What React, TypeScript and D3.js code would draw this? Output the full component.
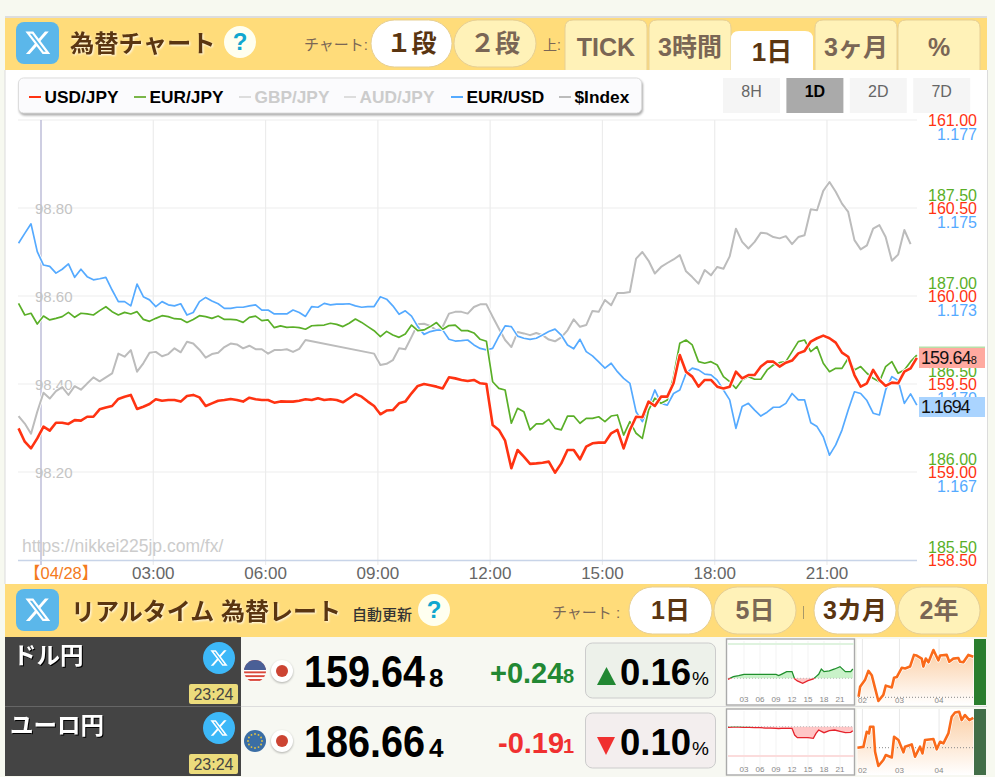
import React from "react";
import * as d3 from "d3";

// minutes from 00:00 on 04/28, one reading every 10 minutes from the previous evening
const minutes = d3.range(-36, 1405, 10);

const usdJpy = [
  159.248, 159.172, 159.134, 159.191, 159.258, 159.235, 159.28, 159.28, 159.273, 159.295,
  159.292, 159.314, 159.314, 159.356, 159.367, 159.375, 159.415, 159.428, 159.438, 159.358,
  159.371, 159.386, 159.413, 159.405, 159.409, 159.409, 159.4, 159.432, 159.438, 159.424,
  159.375, 159.39, 159.405, 159.409, 159.415, 159.409, 159.4, 159.422, 159.413, 159.409,
  159.409, 159.394, 159.401, 159.4, 159.4, 159.405, 159.413, 159.409, 159.419, 159.409,
  159.413, 159.409, 159.396, 159.419, 159.443, 159.428, 159.4, 159.375, 159.328, 159.349,
  159.352, 159.39, 159.4, 159.447, 159.489, 159.5, 159.493, 159.485, 159.475, 159.538,
  159.532, 159.523, 159.517, 159.523, 159.504, 159.5, 159.267, 159.239, 159.178, 159.021,
  159.125, 159.087, 159.046, 159.049, 159.053, 159.059, 158.996, 159.049, 159.125, 159.125,
  159.072, 159.144, 159.163, 159.167, 159.167, 159.22, 159.239, 159.134, 159.239, 159.314,
  159.311, 159.4, 159.375, 159.428, 159.428, 159.504, 159.665, 159.57, 159.542, 159.485,
  159.523, 159.523, 159.485, 159.475, 159.485, 159.57, 159.532, 159.551, 159.551, 159.599,
  159.627, 159.627, 159.599, 159.621, 159.633, 159.674, 159.687, 159.741, 159.76, 159.775,
  159.76, 159.735, 159.678, 159.655, 159.551, 159.485, 159.504, 159.58, 159.523, 159.489,
  159.508, 159.504, 159.57, 159.589, 159.648,
];

const eurJpy = [
  186.958, 186.892, 186.902, 186.841, 186.886, 186.864, 186.873, 186.883, 186.907, 186.879,
  186.902, 186.898, 186.892, 186.917, 186.939, 186.911, 186.892, 186.907, 186.898, 186.911,
  186.867, 186.856, 186.873, 186.888, 186.883, 186.871, 186.869, 186.85, 186.867, 186.888,
  186.883, 186.873, 186.886, 186.867, 186.867, 186.864, 186.85, 186.879, 186.886, 186.86,
  186.864, 186.82, 186.83, 186.822, 186.824, 186.82, 186.811, 186.831, 186.833, 186.835,
  186.845, 186.839, 186.826, 186.845, 186.869, 186.85, 186.826, 186.803, 186.769, 186.799,
  186.778, 186.765, 186.784, 186.835, 186.803, 186.807, 186.826, 186.849, 186.811, 186.832,
  186.835, 186.803, 186.803, 186.79, 186.754, 186.743, 186.513, 186.475, 186.466, 186.277,
  186.362, 186.343, 186.239, 186.273, 186.273, 186.299, 186.248, 186.239, 186.318, 186.318,
  186.277, 186.305, 186.305, 186.314, 186.286, 186.318, 186.324, 186.21, 186.286, 186.22,
  186.191, 186.352, 186.419, 186.39, 186.409, 186.542, 186.731, 186.75, 186.722, 186.627,
  186.618, 186.627, 186.608, 186.542, 186.513, 186.475, 186.523, 186.542, 186.527, 186.527,
  186.58, 186.608, 186.621, 186.627, 186.684, 186.741, 186.75, 186.684, 186.712, 186.618,
  186.57, 186.589, 186.589, 186.646, 186.58, 186.599, 186.561, 186.532, 186.513, 186.599,
  186.627, 186.561, 186.58, 186.627, 186.664,
];

const eurUsd = [
  1.174, 1.17428, 1.17455, 1.17376, 1.17338, 1.17334, 1.17315, 1.17326, 1.17341, 1.17303,
  1.17326, 1.17305, 1.17296, 1.17299, 1.17303, 1.17267, 1.17234, 1.17234, 1.17222, 1.17284,
  1.17248, 1.17239, 1.1722, 1.17234, 1.17225, 1.17222, 1.17228, 1.17196, 1.17203, 1.17234,
  1.17246, 1.17236, 1.17228, 1.17215, 1.17215, 1.17218, 1.17218, 1.17222, 1.17225, 1.1721,
  1.1721, 1.17199, 1.17199, 1.17199, 1.1721, 1.17203, 1.17192, 1.1722, 1.17218, 1.17229,
  1.17225, 1.17227, 1.17227, 1.17228, 1.17222, 1.17218, 1.1722, 1.1722, 1.17248, 1.17241,
  1.17222, 1.17198, 1.17208, 1.17193, 1.17163, 1.17141, 1.17149, 1.17153, 1.17153, 1.17127,
  1.17122, 1.17123, 1.17125, 1.17111, 1.17101, 1.17097, 1.17101, 1.17135, 1.17165, 1.17163,
  1.17136, 1.1713, 1.17127, 1.1713, 1.17139, 1.17149, 1.17156, 1.17139, 1.17111, 1.171,
  1.17127, 1.17092, 1.1708, 1.17063, 1.17045, 1.17059, 1.17035, 1.17016, 1.17002, 1.16921,
  1.16893, 1.16936, 1.16983, 1.16945, 1.1694, 1.16973, 1.16983, 1.1703, 1.17045, 1.1704,
  1.17028, 1.17026, 1.17011, 1.16983, 1.16955, 1.16874, 1.16936, 1.16945, 1.16926, 1.16909,
  1.1692, 1.16934, 1.16934, 1.16945, 1.16973, 1.16955, 1.16955, 1.1689, 1.16879, 1.1685,
  1.16798, 1.16827, 1.16869, 1.16926, 1.16978, 1.16973, 1.16953, 1.16917, 1.16912, 1.16983,
  1.17021, 1.1701, 1.16945, 1.16972, 1.1694,
];

// the index has no quotes for about an hour and a half before 09:00
const dollarIndex: (number | null)[] = [
  98.327, 98.31, 98.287, 98.337, 98.38, 98.367, 98.384, 98.393, 98.375, 98.395,
  98.387, 98.401, 98.415, 98.406, 98.415, 98.424, 98.469, 98.462, 98.477, 98.428,
  98.447, 98.471, 98.473, 98.463, 98.468, 98.481, 98.472, 98.496, 98.492, 98.478,
  98.46, 98.468, 98.471, 98.484, 98.492, 98.49, 98.481, 98.487, 98.479, 98.479,
  98.469, 98.477, 98.477, 98.479, 98.473, 98.48, 98.5, null, null, null,
  null, null, null, null, null, null, null, 98.469, 98.443, 98.446,
  98.454, 98.481, 98.479, 98.507, 98.536, 98.537, 98.532, 98.522, 98.53, 98.56,
  98.564, 98.564, 98.56, 98.575, 98.581, 98.581, 98.553, 98.526, 98.5, 98.484,
  98.518, 98.515, 98.511, 98.516, 98.511, 98.501, 98.497, 98.506, 98.522, 98.547,
  98.53, 98.534, 98.566, 98.564, 98.591, 98.579, 98.607, 98.607, 98.609, 98.685,
  98.7, 98.68, 98.651, 98.666, 98.675, 98.683, 98.693, 98.656, 98.643, 98.628,
  98.659, 98.647, 98.666, 98.662, 98.69, 98.753, 98.723, 98.708, 98.723, 98.744,
  98.742, 98.734, 98.731, 98.736, 98.718, 98.734, 98.738, 98.797, 98.795, 98.839,
  98.859, 98.837, 98.81, 98.791, 98.727, 98.706, 98.715, 98.753, 98.761, 98.734,
  98.68, 98.694, 98.75, 98.718, null,
];

const timeTicks = [180, 360, 540, 720, 900, 1080, 1260];
const timeLabels = ["03:00", "06:00", "09:00", "12:00", "15:00", "18:00", "21:00"];
const usdTicks = [161, 160.5, 160, 159.5, 159, 158.5];
const eurTicks = [187.5, 187, 186.5, 186, 185.5];
const eurUsdTicks = [1.1775, 1.175, 1.1725, 1.17, 1.1675];
const indexTicks = [98.8, 98.6, 98.4, 98.2];

const legendNames = ["USD/JPY", "EUR/JPY", "GBP/JPY", "AUD/JPY", "EUR/USD", "$Index"];

// day session change in yen, row 1 and row 2 mini charts
const miniHours = [0, 1, 2, 3, 4, 5, 6, 7, 8, 9, 9.5, 10, 11, 12, 12.5, 13, 14, 15, 16, 16.5, 17, 17.5, 18, 19, 20, 21, 22, 23, 23.4];
const miniUsd = [-0.03, 0.05, 0.08, 0.12, 0.12, 0.12, 0.12, 0.12, 0.12, 0.12, 0.08, 0.12, 0.2, 0.2, -0.02, -0.08, -0.15, -0.07, -0.02, 0.05, 0.12, 0.28, 0.2, 0.22, 0.28, 0.35, 0.2, 0.2, 0.28];
const miniEur = [-0.02, -0.01, -0.01, -0.02, -0.02, -0.03, -0.03, -0.04, -0.04, -0.05, -0.06, -0.05, -0.05, -0.05, -0.25, -0.33, -0.33, -0.33, -0.35, -0.2, -0.1, -0.14, -0.18, -0.12, -0.1, -0.14, -0.18, -0.17, -0.12];
const miniTickHours = [3, 6, 9, 12, 15, 18, 21];
const miniTickLabels = ["03", "06", "09", "12", "15", "18", "21"];

// three month closes, days counted from 02/01
const longUsdDays = [-3, -1.8, 2, 4.7, 7.3, 9.9, 12.5, 16.4, 18.3, 23, 24.8, 26.9, 30.8, 33.4, 37.3, 40.4, 42.5, 46.4, 47.7, 49.6, 51.7, 55.6, 59.5, 60.8, 66, 68, 71.2, 75.1, 76.4, 79, 82.9, 86.8];
const longUsd = [153.1, 154.7, 155.8, 157.3, 156.6, 154.5, 152.4, 153.4, 154.9, 154.6, 156.2, 156.3, 157.8, 157.7, 158, 159.9, 159.8, 159.3, 158, 159.3, 158.7, 160.7, 159, 159.8, 159.9, 158.8, 159.3, 159.4, 158.8, 158.7, 159.9, 159.6];
const longEurDays = [-3.9, 0.8, 3.4, 5.2, 6, 8.6, 9.9, 12.5, 16.4, 18.3, 23, 24.8, 28.2, 32.1, 33.4, 38.6, 41.2, 45.1, 47, 49, 55.6, 58.2, 60.8, 63.4, 67.3, 69.9, 72.5, 75.7, 77.7, 80.3, 83.7, 86.8];
const longEur = [183, 183.1, 184.95, 184.75, 185.56, 185.56, 182.5, 180.76, 181.5, 182.1, 181.8, 184.34, 183.94, 182.43, 183.12, 183.4, 181.9, 183.12, 182.3, 183.94, 184.06, 182.8, 183.73, 183.53, 184.75, 186.79, 187.3, 187.4, 186.38, 186.99, 186.38, 186.66];
const longTickDays = [0, 29, 60];
const longTickLabels = ["02", "03", "04"];

const SANS = "'Liberation Sans', Arial, sans-serif";
const JP = "'Liberation Sans', 'Noto Sans CJK JP', sans-serif";
const BROWN = "#5a3511";
const DIM = "#7a6655";
const YELLOW = "#ffdc7a";
const CREAM = "#fff2b8";
const RED = "#ff3312";
const GREEN = "#5aaf28";
const BLUE = "#55aaff";
const GREY = "#bcbcbc";
const glow = { filter: "drop-shadow(1px 1px 1px rgba(255,255,255,0.9))" };

const xTime = d3.scaleLinear().domain([0, 1260]).range([41, 827]);
const yUsd = d3.scaleLinear().domain([158.5, 161]).range([560, 120]);
const yEur = d3.scaleLinear().domain([185.5, 187.5]).range([560, 208]);
const yEurUsd = d3.scaleLinear().domain([1.165, 1.175]).range([560, 208]);
const yIndex = d3.scaleLinear().domain([98.2, 98.8]).range([472, 208]);

const seriesPath = (values: (number | null)[], y: d3.ScaleLinear<number, number>) => {
  const pts = values
    .map((v, i) => [minutes[i], v] as [number, number | null])
    .filter((d) => d[1] !== null) as [number, number][];
  return d3
    .line<[number, number]>()
    .x((d) => xTime(d[0]))
    .y((d) => y(d[1]))(pts) as string;
};

const X_PATH =
  "M18.244 2.25h3.308l-7.227 8.26 8.502 11.24H16.17l-5.214-6.817L4.99 21.75H1.68l7.73-8.835L1.254 2.25H8.08l4.713 6.231zm-1.161 17.52h1.833L7.084 4.126H5.117z";

const XSquare = ({ y }: { y: number }) => (
  <g>
    <rect x={16} y={y} width={43} height={42} rx={8} fill="#5bb7ea" />
    <path d={X_PATH} fill="#fff" transform={`translate(24 ${y + 7}) scale(1.15)`} />
  </g>
);

const XRound = ({ cy }: { cy: number }) => (
  <g>
    <circle cx={219} cy={cy} r={16} fill="#3db8f8" />
    <path d={X_PATH} fill="#fff" transform={`translate(209.4 ${cy - 9.6}) scale(0.8)`} />
  </g>
);

const Help = ({ cx, cy }: { cx: number; cy: number }) => (
  <g>
    <circle cx={cx} cy={cy} r={16} fill="#fffff0" />
    <text x={cx} y={cy + 8} textAnchor="middle" fontFamily={SANS} fontWeight="bold" fontSize={24} fill="#11a7cf">?</text>
  </g>
);

const Pill = ({ x, y, w, label, on }: { x: number; y: number; w: number; label: string; on: boolean }) => (
  <g>
    <rect x={x} y={y} width={w} height={47} rx={23.5} fill={on ? "#fff" : CREAM} stroke="#e6cf95" />
    <text x={x + w / 2} y={y + 32} textAnchor="middle" fontFamily={JP} fontWeight="bold" fontSize={25} fill={on ? BROWN : DIM}>
      {label}
    </text>
  </g>
);

const Tab = ({ x, label, on }: { x: number; label: string; on: boolean }) => {
  const top = on ? 31 : 20;
  const w = 82;
  const bottom = 70;
  return (
    <g>
      <path
        d={`M${x} ${bottom}V${top + 8}Q${x} ${top} ${x + 8} ${top}H${x + w - 8}Q${x + w} ${top} ${x + w} ${top + 8}V${bottom}`}
        fill={on ? "#fff" : CREAM}
        stroke={on ? "none" : "#e6cf95"}
      />
      <text x={x + w / 2} y={on ? 61 : 56} textAnchor="middle" fontFamily={JP} fontWeight="bold" fontSize={on ? 26 : 25} fill={on ? BROWN : DIM}>
        {label}
      </text>
    </g>
  );
};

// day chart in the quote rows, green above the previous close and red under it
const MiniDay = ({ id, top, values, base, pxPerYen }: { id: string; top: number; values: number[]; base: number; pxPerYen: number }) => {
  const x = d3.scaleLinear().domain([0, 21]).range([728, 840]);
  const y = d3.scaleLinear().domain([0, 1]).range([base, base - pxPerYen]);
  const pts = miniHours.map((h, i) => [h, values[i]] as [number, number]);
  const area = (f: (v: number) => number) =>
    d3
      .area<[number, number]>()
      .x((d) => x(d[0]))
      .y0(base)
      .y1((d) => y(f(d[1])))(pts) as string;
  const up = d3.line<[number, number]>().x((d) => x(d[0])).y((d) => y(d[1]))(pts) as string;
  return (
    <g>
      <clipPath id={`${id}-up`}><rect x={726} y={top} width={129} height={base - top} /></clipPath>
      <clipPath id={`${id}-dn`}><rect x={726} y={base} width={129} height={top + 66 - base} /></clipPath>
      <rect x={726.5} y={top} width={128} height={66} fill="#fff" stroke="#aaa" strokeWidth={1.4} />
      {miniTickHours.map((h) => (
        <line key={h} x1={x(h)} x2={x(h)} y1={top + 2} y2={top + 64} stroke="#f3f3f3" />
      ))}
      <rect x={728} y={id === "m1" ? top + 4 : top + 46} width={126} height={2} fill={id === "m1" ? "#dff3df" : "#fbdcdc"} />
      <path d={area((v) => Math.max(v, 0))} fill="#c9f2c9" />
      <path d={area((v) => Math.min(v, 0))} fill="#ffc6c6" />
      <line x1={728} x2={854} y1={base} y2={base} stroke="#bbb" strokeDasharray="1 2" />
      <path d={up} fill="none" stroke="#1f8f2c" strokeWidth={1.3} clipPath={`url(#${id}-up)`} />
      <path d={up} fill="none" stroke="#e5232c" strokeWidth={1.3} clipPath={`url(#${id}-dn)`} />
      {miniTickHours.map((h, i) => (
        <text key={h} x={x(h)} y={top + 63} textAnchor="middle" fontFamily={SANS} fontSize={8} fill="#888">
          {miniTickLabels[i]}
        </text>
      ))}
    </g>
  );
};

const MiniLong = ({ id, top, days, values, base, domain, range, strip }: {
  id: string; top: number; days: number[]; values: number[]; base: number;
  domain: [number, number]; range: [number, number]; strip: string;
}) => {
  const x = d3.scaleLinear().domain([0, 86.8]).range([862.4, 973.3]);
  const y = d3.scaleLinear().domain(domain).range(range);
  const pts = days.map((d, i) => [d, values[i]] as [number, number]);
  const bottom = top + 66;
  const line = d3.line<[number, number]>().x((d) => x(d[0])).y((d) => y(d[1]))(pts) as string;
  const area = d3.area<[number, number]>().x((d) => x(d[0])).y0(bottom).y1((d) => y(d[1]))(pts) as string;
  return (
    <g>
      <defs>
        <linearGradient id={id} x1="0" x2="0" y1="0" y2="1">
          <stop offset="0" stopColor="#fbcfa6" />
          <stop offset="1" stopColor="#ffffff" />
        </linearGradient>
      </defs>
      <rect x={857} y={top} width={117} height={66} fill="#fff" />
      {longTickDays.map((d) => (
        <line key={d} x1={x(d)} x2={x(d)} y1={top} y2={bottom} stroke="#e8e8e8" />
      ))}
      <path d={area} fill={`url(#${id})`} />
      <line x1={858} x2={973} y1={base} y2={base} stroke="#888" strokeDasharray="1 2" />
      <path d={line} fill="none" stroke="#fff" strokeWidth={4} strokeLinejoin="round" />
      <path d={line} fill="none" stroke="#fa6a1a" strokeWidth={2.6} strokeLinejoin="round" />
      {longTickDays.map((d, i) => (
        <text key={d} x={x(d)} y={top + 64} textAnchor="middle" fontFamily={SANS} fontSize={8} fill="#888">
          {longTickLabels[i]}
        </text>
      ))}
      <rect x={974} y={top} width={12} height={66} fill={strip} />
    </g>
  );
};

const UsFlag = ({ cy }: { cy: number }) => (
  <g>
    <clipPath id="us-clip"><circle cx={255} cy={cy} r={11} /></clipPath>
    <g clipPath="url(#us-clip)">
      <rect x={244} y={cy - 11} width={22} height={22} fill="#fff" />
      {d3.range(6).map((i) => (
        <rect key={i} x={244} y={cy - 11 + i * 3.8} width={22} height={1.9} fill="#d9483b" />
      ))}
      <rect x={244} y={cy - 11} width={22} height={10} fill="#4a5f96" />
    </g>
  </g>
);

const EuFlag = ({ cy }: { cy: number }) => (
  <g>
    <circle cx={255} cy={cy} r={11} fill="#3a6ea5" />
    {d3.range(12).map((i) => (
      <circle key={i} cx={255 + 7 * Math.cos((i * Math.PI) / 6)} cy={cy + 7 * Math.sin((i * Math.PI) / 6)} r={0.9} fill="#e6c542" />
    ))}
  </g>
);

const JpFlag = ({ cy }: { cy: number }) => (
  <g style={{ filter: "drop-shadow(0px 1px 1px rgba(0,0,0,0.3))" }}>
    <circle cx={282} cy={cy} r={11} fill="#fff" />
    <circle cx={282} cy={cy} r={6} fill="#cc4433" />
  </g>
);

const Row = ({ top, name, nameX, price, last, change, changeLast, changeX, up, pct }: {
  top: number; name: string; nameX: number; price: string; last: string;
  change: string; changeLast: string; changeX: number; up: boolean; pct: string;
}) => {
  const colour = up ? "#228833" : "#f03030";
  const boxTop = top + 6;
  return (
    <g>
      <rect x={5} y={top} width={236} height={69} fill="#444" />
      <text x={nameX} y={top + 27} fontFamily={JP} fontWeight="bold" fontSize={23.5} fill="#fff" style={{ filter: "drop-shadow(1px 1px 0 #000)" }}>
        {name}
      </text>
      <XRound cy={top + 21} />
      <rect x={189} y={top + 47} width={49} height={20} rx={2} fill="#ecdc7c" />
      <text x={213.5} y={top + 63} textAnchor="middle" fontFamily={SANS} fontSize={16} fill="#444">23:24</text>
      <JpFlag cy={top + 34} />
      <text transform={`translate(304 ${top + 50}) scale(0.9 1)`} fontFamily={SANS} fontWeight="bold" fontSize={44} fill="#000">{price}</text>
      <text x={429} y={top + 50} fontFamily={SANS} fontWeight="bold" fontSize={26} fill="#000">{last}</text>
      <text x={changeX} y={top + 46} fontFamily={SANS} fontWeight="bold" fontSize={29} fill={colour}>{change}</text>
      <text x={563} y={top + 46} fontFamily={SANS} fontWeight="bold" fontSize={20} fill={colour}>{changeLast}</text>
      <rect x={585.5} y={boxTop} width={130} height={55} rx={7} fill={up ? "#edf1ea" : "#f3eeee"} stroke="#ccc" />
      {up ? (
        <path d={`M597 ${top + 48}L606.5 ${top + 30}L616 ${top + 48}Z`} fill="#228833" />
      ) : (
        <path d={`M597 ${top + 30}L615 ${top + 30}L606 ${top + 48}Z`} fill="#f03030" />
      )}
      <text x={620} y={top + 48} fontFamily={SANS} fontWeight="bold" fontSize={36.5} fill="#000">{pct}</text>
      <text x={692} y={top + 48} fontFamily={SANS} fontSize={19} fill="#000">%</text>
    </g>
  );
};

export default function App() {
  const legendX = [29, 134, 239, 344, 451, 559];
  const legendColour = [RED, "#7ab648", "#ddd", "#ddd", BLUE, GREY];
  const buttons = ["8H", "1D", "2D", "7D"];
  return (
    <svg width={995} height={777} style={{ position: "absolute", left: 0, top: 0, display: "block" }}>
      <rect width={995} height={777} fill="#f7f9f0" />

      {/* top bar */}
      <rect x={5} y={16} width={982} height={2} fill="#dddddd" />
      <rect x={5} y={18} width={982} height={52} fill={YELLOW} />
      <rect x={5} y={70} width={982} height={514} fill="#fff" />
      <rect x={4.5} y={70} width={1} height={514} fill="#dcdcdc" />
      <rect x={987} y={70} width={1} height={514} fill="#dcdcdc" />
      <XSquare y={22} />
      <text x={70} y={52} fontFamily={JP} fontWeight="bold" fontSize={24.3} fill={BROWN} style={glow}>為替チャート</text>
      <Help cx={240} cy={42} />
      <text x={304} y={50} fontFamily={JP} fontSize={15} fill={DIM}>チャート:</text>
      <Pill x={371} y={20} w={81} label="１段" on />
      <Pill x={454} y={20} w={82} label="２段" on={false} />
      <text x={543} y={50} fontFamily={JP} fontSize={14} fill={DIM}>上:</text>
      <Tab x={565} label="TICK" on={false} />
      <Tab x={649} label="3時間" on={false} />
      <Tab x={731} label="1日" on />
      <Tab x={815} label="3ヶ月" on={false} />
      <Tab x={898} label="%" on={false} />

      {/* legend and range buttons */}
      <rect x={18.5} y={78} width={623} height={35} rx={5} fill="#fbfbfd" stroke="#ddd" style={{ filter: "drop-shadow(1px 2px 1px #aaa)" }} />
      {legendNames.map((name, i) => (
        <g key={name}>
          <line x1={legendX[i]} x2={legendX[i] + 12} y1={97} y2={97} stroke={legendColour[i]} strokeWidth={2} />
          <text x={legendX[i] + 15.5} y={102.5} fontFamily={SANS} fontWeight="bold" fontSize={17.3} fill={i === 2 || i === 3 ? "#cccccc" : "#000"}>
            {name}
          </text>
        </g>
      ))}
      {buttons.map((b, i) => (
        <g key={b}>
          <rect x={723 + i * 63.4} y={78} width={57} height={35} fill={i === 1 ? "#aaaaaa" : "#f5f5f5"} />
          <text x={751.5 + i * 63.4} y={97} textAnchor="middle" fontFamily={SANS} fontWeight={i === 1 ? "bold" : "normal"} fontSize={16} fill={i === 1 ? "#000" : "#666"}>
            {b}
          </text>
        </g>
      ))}

      {/* grid */}
      {usdTicks.slice(0, 5).map((t) => (
        <line key={t} x1={18} x2={917} y1={yUsd(t)} y2={yUsd(t)} stroke="#f3f3f3" strokeWidth={1.6} />
      ))}
      {timeTicks.map((t) => (
        <line key={t} x1={xTime(t)} x2={xTime(t)} y1={120} y2={565} stroke="#ececec" strokeWidth={1.2} />
      ))}
      <line x1={xTime(0)} x2={xTime(0)} y1={120} y2={565} stroke="#b9b9d6" strokeWidth={1.4} />
      <line x1={18} x2={917} y1={560.5} y2={560.5} stroke="#c8d4e8" strokeWidth={1.4} />

      <text x={22} y={552} fontFamily={SANS} fontSize={17.5} fill="#cccccc">https://nikkei225jp.com/fx/</text>
      <text x={24} y={579} fontFamily={JP} fontSize={16.5} fill="#f47a20">【04/28】</text>
      {timeTicks.map((t, i) => (
        <text key={t} x={xTime(t)} y={579} textAnchor="middle" fontFamily={SANS} fontSize={17} fill="#666">
          {timeLabels[i]}
        </text>
      ))}

      {indexTicks.map((t) => (
        <text key={t} x={35} y={yIndex(t) + 5.5} fontFamily={SANS} fontSize={15} fill="#c4c4c4">{t.toFixed(2)}</text>
      ))}
      {eurTicks.map((t) => (
        <text key={t} x={977} y={yEur(t) - 7.5} textAnchor="end" fontFamily={SANS} fontSize={16} fill={GREEN}>{t.toFixed(2)}</text>
      ))}
      {eurUsdTicks.map((t) => (
        <text key={t} x={977} y={yEurUsd(t) + 19.5} textAnchor="end" fontFamily={SANS} fontSize={16} fill={BLUE}>{t.toFixed(3)}</text>
      ))}
      {usdTicks.map((t) => (
        <text key={t} x={977} y={yUsd(t) + 5.5} textAnchor="end" fontFamily={SANS} fontSize={16} fill={RED}>{t.toFixed(2)}</text>
      ))}

      {/* lines, each with a white edge so crossings read as gaps */}
      {[
        { d: seriesPath(dollarIndex, yIndex), c: GREY, w: 2 },
        { d: seriesPath(eurUsd, yEurUsd), c: BLUE, w: 1.7 },
        { d: seriesPath(eurJpy, yEur), c: GREEN, w: 1.7 },
        { d: seriesPath(usdJpy, yUsd), c: RED, w: 2.6 },
      ].map((s) => (
        <g key={s.c} fill="none" strokeLinejoin="round">
          <path d={s.d} stroke="#fff" strokeWidth={s.w + 1.6} />
          <path d={s.d} stroke={s.c} strokeWidth={s.w} />
        </g>
      ))}

      {/* last price tags */}
      <rect x={919} y={346.5} width={66} height={5} fill="#b8dfa8" />
      <rect x={919} y={348} width={66} height={20} fill="#ffaaa0" />
      <text x={921} y={364} fontFamily={SANS} fontSize={18} letterSpacing={-0.9} fill="#111">
        159.64<tspan fontSize={11}>8</tspan>
      </text>
      <rect x={919} y={397} width={66} height={20} fill="#aad4ff" />
      <text x={921} y={413} fontFamily={SANS} fontSize={18} letterSpacing={-1.1} fill="#111">1.1694</text>

      {/* realtime bar */}
      <rect x={5} y={584} width={982} height={53} fill={YELLOW} />
      <XSquare y={589} />
      <text x={71} y={620} fontFamily={JP} fontWeight="bold" fontSize={24} fill={BROWN} style={glow}>リアルタイム 為替レート</text>
      <text x={352} y={620} fontFamily={JP} fontWeight="500" fontSize={15} fill="#333">自動更新</text>
      <Help cx={434} cy={610} />
      <text x={552} y={618} fontFamily={JP} fontSize={15} fill={DIM}>チャート :</text>
      <Pill x={629} y={587} w={83} label="1日" on />
      <Pill x={714} y={587} w={82} label="5日" on={false} />
      <line x1={803.5} x2={803.5} y1={606} y2={619} stroke="#a89868" />
      <Pill x={814} y={587} w={82} label="3カ月" on />
      <Pill x={898} y={587} w={82} label="2年" on={false} />

      {/* quote rows */}
      <rect x={241} y={637} width={746} height={140} fill="#f7f8f2" />
      <line x1={241} x2={987} y1={706.5} y2={706.5} stroke="#dddddd" />
      <Row top={637} name="ドル円" nameX={13} price="159.64" last="8" change="+0.24" changeLast="8" changeX={490} up pct="0.16" />
      <UsFlag cy={671} />
      <rect x={5} y={706} width={236} height={1.5} fill="#666" />
      <Row top={707} name="ユーロ円" nameX={10} price="186.66" last="4" change="-0.19" changeLast="1" changeX={498} up={false} pct="0.10" />
      <EuFlag cy={741} />

      <MiniDay id="m1" top={639} values={miniUsd} base={678.3} pxPerYen={33.3} />
      <MiniDay id="m2" top={709} values={miniEur} base={726.7} pxPerYen={33.3} />
      <MiniLong id="l1" top={639} days={longUsdDays} values={longUsd} base={697.3} domain={[153, 160.7]} range={[697.3, 650]} strip="#2a7e2e" />
      <MiniLong id="l2" top={709} days={longEurDays} values={longEur} base={747.7} domain={[183, 187.4]} range={[747.7, 711.7]} strip="#426e48" />
    </svg>
  );
}
